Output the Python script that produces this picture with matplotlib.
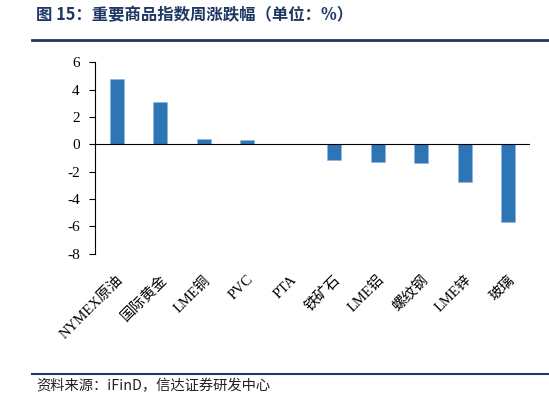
import matplotlib
matplotlib.use("Agg")
import matplotlib.pyplot as plt
from matplotlib.lines import Line2D

# ---- DATA ----
categories = ["NYMEX原油", "国际黄金", "LME铜", "PVC", "PTA",
              "铁矿石", "LME铝", "螺纹钢", "LME锌", "玻璃"]
changes = [4.80, 3.12, 0.39, 0.29, 0.0, -1.17, -1.29, -1.34, -2.78, -5.66]
y_ticks = [6, 4, 2, 0, -2, -4, -6, -8]

TITLE = "图 15：重要商品指数周涨跌幅（单位：%）"
SOURCE = "资料来源：iFinD，信达证券研发中心"

# ---- STYLE ----
BAR_COLOR = "#2E75B6"
NAVY = "#1F3864"
TICK_FONT = ["Liberation Serif", "Noto Sans CJK SC"]
CJK_FONT = ["Noto Sans CJK SC", "DejaVu Sans"]

fig = plt.figure(figsize=(5.49, 3.99), dpi=100)
ax = fig.add_axes([0.173, 0.364, 0.792, 0.480])

x = list(range(len(categories)))
ax.bar(x, changes, width=0.32, color=BAR_COLOR, edgecolor="#8FB4DC", linewidth=0.4, zorder=2)
ax.axhline(0, color="black", linewidth=0.8, zorder=3)

ax.set_xlim(-0.5, len(categories) - 0.5)
ax.set_ylim(-8, 6)
ax.set_yticks(y_ticks)
ax.set_yticklabels([str(t) for t in y_ticks], family=TICK_FONT, fontsize=11)
ax.set_xticks(x)
ax.set_xticklabels(categories, family=TICK_FONT, fontsize=10.5,
                   rotation=45, ha="right", rotation_mode="anchor")
ax.tick_params(axis="x", length=0, pad=14)
ax.tick_params(axis="y", length=4, width=0.8, direction="out", pad=7)

for side in ["top", "right", "bottom"]:
    ax.spines[side].set_visible(False)
ax.spines["left"].set_linewidth(0.8)

# header and footer
fig.text(36 / 549, 1 - 15 / 399, TITLE, family=CJK_FONT, fontsize=11.8,
         fontweight="bold", color=NAVY, va="center", ha="left")
fig.add_artist(Line2D([32 / 549, 1.0], [1 - 40 / 399, 1 - 40 / 399],
                      color=NAVY, linewidth=2.0, transform=fig.transFigure))
fig.add_artist(Line2D([32 / 549, 1.0], [1 - 373.5 / 399, 1 - 373.5 / 399],
                      color=NAVY, linewidth=1.5, transform=fig.transFigure))
fig.text(36 / 549, 1 - 386 / 399, SOURCE, family=CJK_FONT, fontsize=10.3,
         style="italic", color="#222222", va="center", ha="left")

fig.savefig("out.png", dpi=100)
